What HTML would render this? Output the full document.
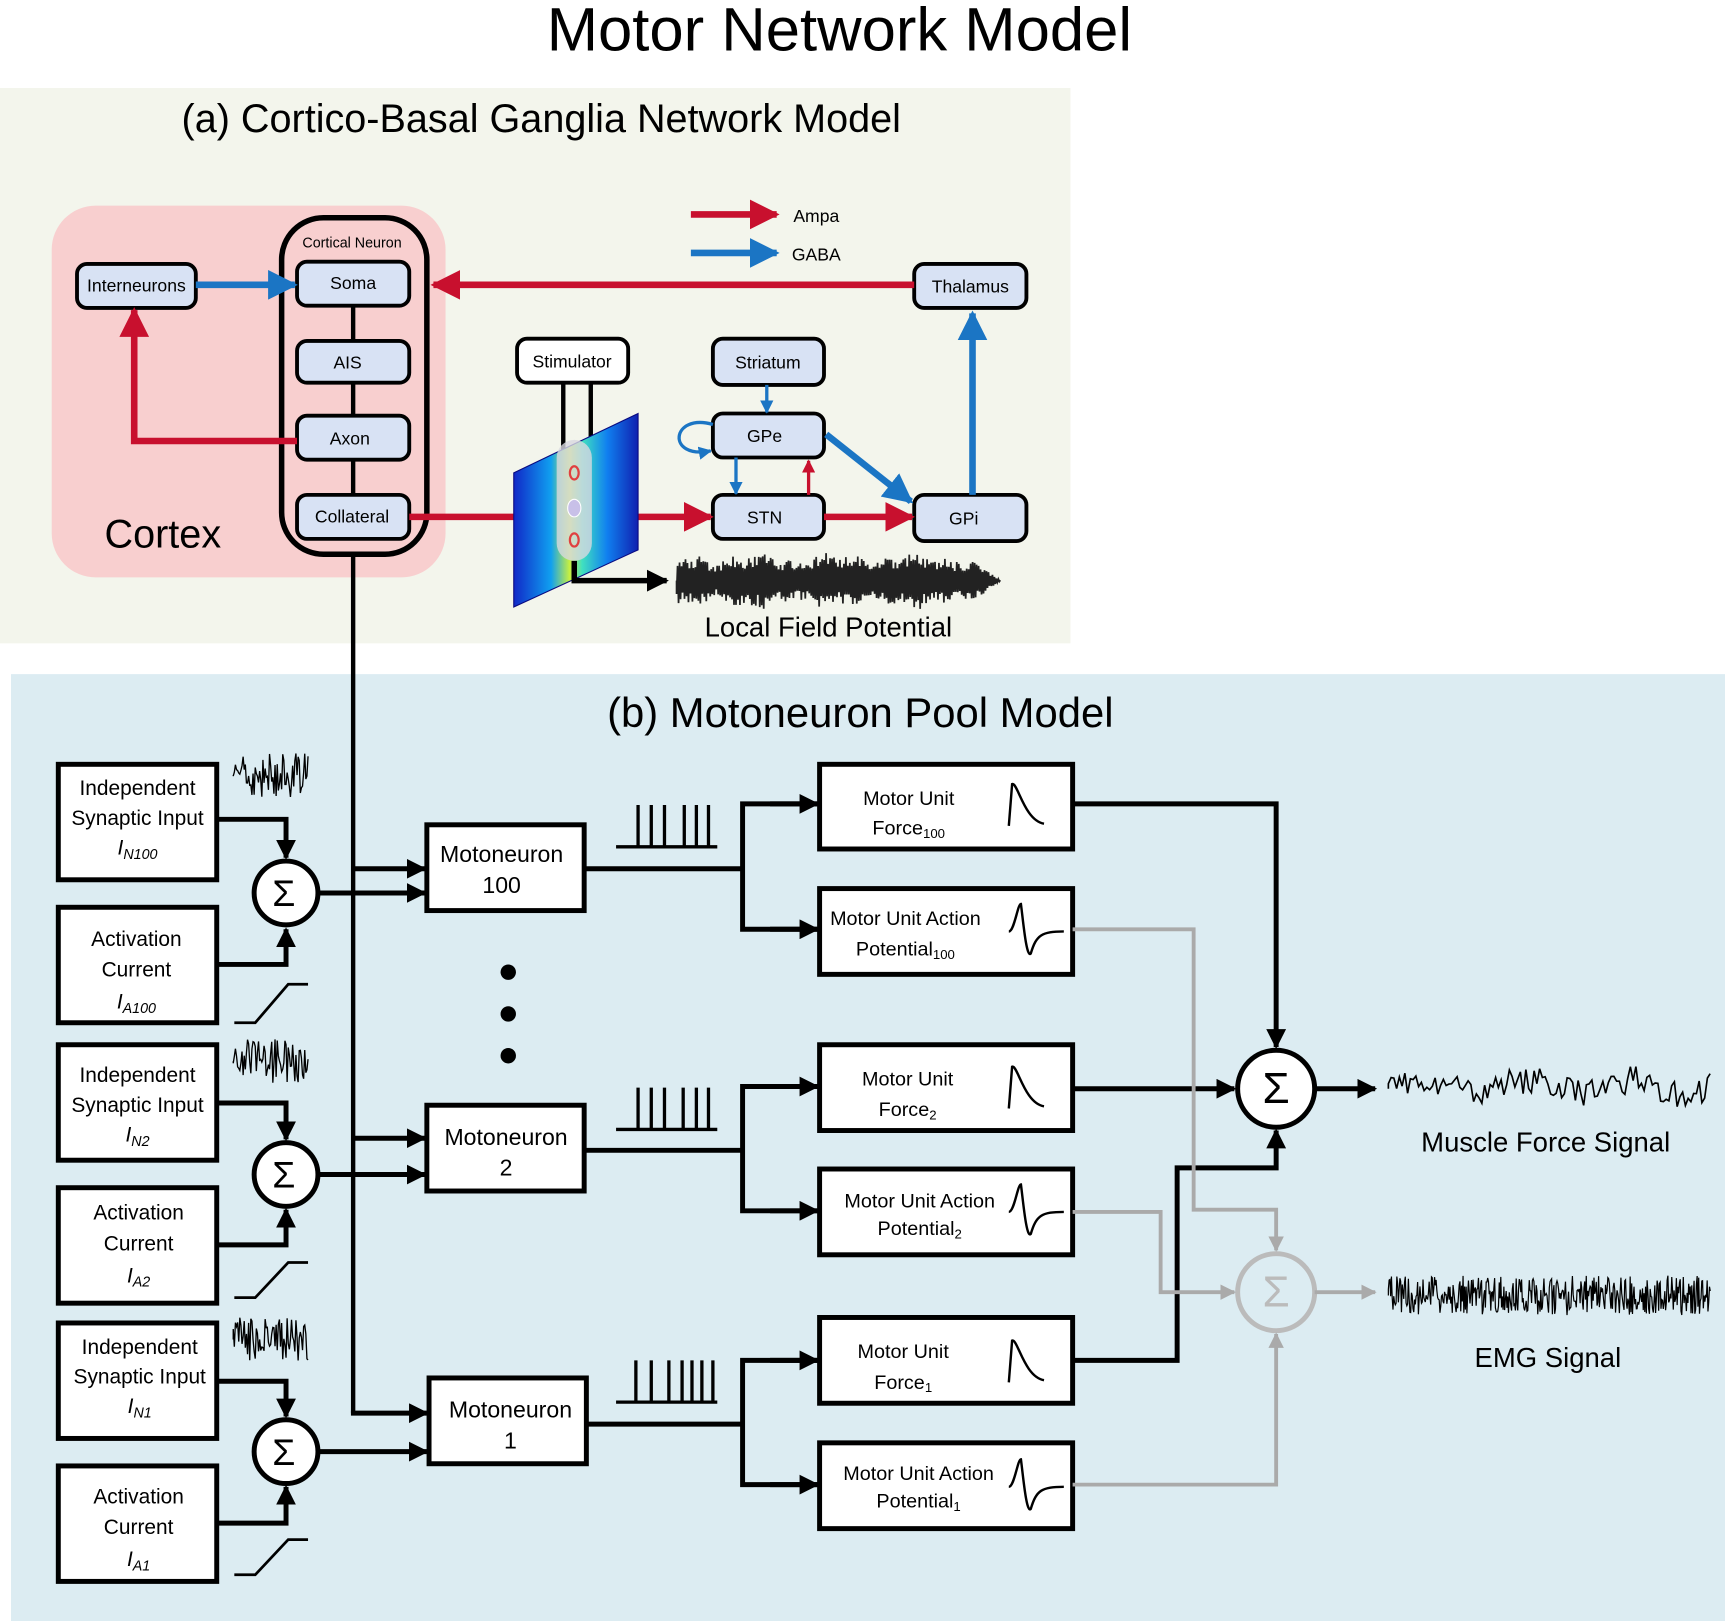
<!DOCTYPE html>
<html><head><meta charset="utf-8"><style>
html,body{margin:0;padding:0;background:#fff}
svg{display:block}
text{font-family:"Liberation Sans",sans-serif}
</style></head><body>
<svg id="s" width="1725" height="1621" viewBox="0 0 1568 1474" preserveAspectRatio="none" xmlns="http://www.w3.org/2000/svg">
<defs>
<marker id="ar" viewBox="0 0 10 10" refX="9" refY="5" markerWidth="4.5" markerHeight="4.5" orient="auto"><path d="M0,0L10,5L0,10z" fill="#c8102e"/></marker>
<marker id="ab" viewBox="0 0 10 10" refX="9" refY="5" markerWidth="4.5" markerHeight="4.5" orient="auto"><path d="M0,0L10,5L0,10z" fill="#1b75c4"/></marker>
<marker id="ars" viewBox="0 0 10 10" refX="9" refY="5" markerWidth="4" markerHeight="4" orient="auto"><path d="M0,0L10,5L0,10z" fill="#c8102e"/></marker>
<marker id="abs" viewBox="0 0 10 10" refX="9" refY="5" markerWidth="4" markerHeight="4" orient="auto"><path d="M0,0L10,5L0,10z" fill="#1b75c4"/></marker>
<marker id="ak" viewBox="0 0 10 10" refX="9" refY="5" markerWidth="4" markerHeight="4" orient="auto"><path d="M0,0L10,5L0,10z" fill="#000"/></marker>
<marker id="ag" viewBox="0 0 10 10" refX="9" refY="5" markerWidth="4" markerHeight="4" orient="auto"><path d="M0,0L10,5L0,10z" fill="#aaa"/></marker>
<linearGradient id="eg" x1="0" y1="0" x2="1" y2="0">
<stop offset="0" stop-color="#1028c8"/><stop offset="0.3" stop-color="#10a0f0"/><stop offset="0.45" stop-color="#c8f040"/><stop offset="0.55" stop-color="#40e0c0"/><stop offset="0.75" stop-color="#1080f0"/><stop offset="1" stop-color="#1020b0"/></linearGradient>
</defs>
<text x="763" y="46" font-size="56" text-anchor="middle">Motor Network Model</text>
<rect x="0" y="80" width="973" height="505" fill="#f3f5ec"/>
<rect x="10" y="613" width="1558" height="861" fill="#dcecf2"/>
<text x="492" y="120" font-size="36" text-anchor="middle">(a) Cortico-Basal Ganglia Network Model</text>
<rect x="47" y="187" width="358" height="338" rx="40" fill="#f8cfcf"/>
<text x="148" y="498" font-size="36" text-anchor="middle">Cortex</text>
<rect x="256" y="198" width="132" height="306" rx="38" fill="none" stroke="#000" stroke-width="5"/>
<text x="320" y="225" font-size="13" text-anchor="middle">Cortical Neuron</text>
<g stroke="#000" stroke-width="4"><line x1="321" y1="278" x2="321" y2="450"/></g>
<g stroke="#000" stroke-width="3.5" fill="#d8e2f4">
<rect x="70" y="240" width="108" height="40" rx="9"/>
<rect x="270" y="238" width="102" height="40" rx="9"/>
<rect x="270" y="310" width="102" height="38" rx="9"/>
<rect x="270" y="378" width="102" height="40" rx="9"/>
<rect x="270" y="450" width="102" height="40" rx="9"/>
<rect x="831" y="240" width="102" height="40" rx="9"/>
<rect x="648" y="308" width="101" height="42" rx="9"/>
<rect x="648" y="376" width="101" height="40" rx="9"/>
<rect x="648" y="450" width="101" height="40" rx="9"/>
<rect x="831" y="450" width="102" height="42" rx="9"/>
<rect x="470" y="308" width="101" height="40" rx="9" fill="#fff"/>
</g>
<g font-size="16" text-anchor="middle">
<text x="124" y="265">Interneurons</text><text x="321" y="263">Soma</text><text x="316" y="335">AIS</text>
<text x="318" y="404">Axon</text><text x="320" y="475">Collateral</text><text x="882" y="266">Thalamus</text>
<text x="698" y="335">Striatum</text><text x="695" y="402">GPe</text><text x="695" y="476">STN</text>
<text x="876" y="477">GPi</text><text x="520" y="334">Stimulator</text>
<text x="742" y="202">Ampa</text><text x="742" y="237">GABA</text></g>
<g fill="none" stroke-width="6">
<line x1="628" y1="195" x2="706" y2="195" stroke="#c8102e" marker-end="url(#ar)"/>
<line x1="628" y1="230" x2="706" y2="230" stroke="#1b75c4" marker-end="url(#ab)"/>
<line x1="178" y1="259" x2="268" y2="259" stroke="#1b75c4" marker-end="url(#ab)"/>
<line x1="831" y1="259" x2="394" y2="259" stroke="#c8102e" marker-end="url(#ar)"/>
<polyline points="270,401 122,401 122,282" stroke="#c8102e" marker-end="url(#ar)"/>
<line x1="372" y1="470" x2="470" y2="470" stroke="#c8102e"/>
<line x1="578" y1="470" x2="646" y2="470" stroke="#c8102e" marker-end="url(#ar)"/>
<line x1="749" y1="470" x2="829" y2="470" stroke="#c8102e" marker-end="url(#ar)"/>
<line x1="884" y1="450" x2="884" y2="285" stroke="#1b75c4" marker-end="url(#ab)"/>
<line x1="751" y1="395" x2="828" y2="456" stroke="#1b75c4" marker-end="url(#ab)"/>
</g>
<g fill="none" stroke-width="3">
<line x1="697" y1="350" x2="697" y2="375" stroke="#1b75c4" marker-end="url(#abs)"/>
<line x1="669" y1="416" x2="669" y2="449" stroke="#1b75c4" marker-end="url(#abs)"/>
<line x1="735" y1="450" x2="735" y2="419" stroke="#c8102e" marker-end="url(#ars)"/>
<path d="M648,386 C610,375 605,418 646,410" stroke="#1b75c4" marker-end="url(#abs)"/>
</g>
<g stroke="#000" stroke-width="4"><line x1="512" y1="348" x2="512" y2="420"/><line x1="537" y1="348" x2="537" y2="405"/></g>
<polygon points="467,430 580,376 580,500 467,552" fill="url(#eg)" stroke="#0a0a80" stroke-width="1"/>
<rect x="506" y="400" width="32" height="110" rx="16" fill="#d8d8e0" opacity="0.8"/>
<ellipse cx="522" cy="430" rx="4" ry="6" fill="none" stroke="#e04040" stroke-width="2"/>
<ellipse cx="522" cy="462" rx="6" ry="8" fill="#c8c0e8" stroke="#fff"/>
<ellipse cx="522" cy="491" rx="4" ry="6" fill="none" stroke="#e04040" stroke-width="2"/>
<polyline points="522,510 522,528 606,528" fill="none" stroke="#000" stroke-width="5" marker-end="url(#ak)"/>
<path id="lfp" fill="none" stroke="#222" stroke-width="1.6"/>
<text x="753" y="579" font-size="25" text-anchor="middle">Local Field Potential</text>
<line x1="321" y1="505" x2="321" y2="1285" stroke="#000" stroke-width="4"/>
<text x="782" y="661" font-size="38" text-anchor="middle">(b) Motoneuron Pool Model</text>
<g fill="#fff" stroke="#000" stroke-width="4.5">
<rect x="53" y="695" width="144" height="105"/><rect x="53" y="825" width="144" height="105"/>
<rect x="53" y="950" width="144" height="105"/><rect x="53" y="1080" width="144" height="105"/>
<rect x="53" y="1203" width="144" height="105"/><rect x="53" y="1333" width="144" height="105"/>
<rect x="388" y="750" width="143" height="78"/><rect x="388" y="1005" width="143" height="78"/><rect x="390" y="1253" width="143" height="78"/>
<rect x="745" y="695" width="230" height="77"/><rect x="745" y="808" width="230" height="78"/>
<rect x="745" y="950" width="230" height="78"/><rect x="745" y="1063" width="230" height="78"/>
<rect x="745" y="1198" width="230" height="78"/><rect x="745" y="1312" width="230" height="78"/>
<circle cx="260" cy="812" r="29"/><circle cx="260" cy="1068" r="29"/><circle cx="260" cy="1320" r="29"/>
<circle cx="1160" cy="990" r="35"/>
<circle cx="1160" cy="1175" r="35" stroke="#bbb" fill="none"/>
</g>
<g font-size="19" text-anchor="middle">
<text x="125" y="723">Independent</text><text x="125" y="750">Synaptic Input</text><text x="125" y="777" font-family="Liberation Serif" font-style="italic">I<tspan font-size="13" dy="4">N100</tspan></text>
<text x="124" y="860">Activation</text><text x="124" y="888">Current</text><text x="124" y="917" font-family="Liberation Serif" font-style="italic">I<tspan font-size="13" dy="4">A100</tspan></text>
<text x="125" y="984">Independent</text><text x="125" y="1011">Synaptic Input</text><text x="125" y="1038" font-family="Liberation Serif" font-style="italic">I<tspan font-size="13" dy="4">N2</tspan></text>
<text x="126" y="1109">Activation</text><text x="126" y="1137">Current</text><text x="126" y="1166" font-family="Liberation Serif" font-style="italic">I<tspan font-size="13" dy="4">A2</tspan></text>
<text x="127" y="1231">Independent</text><text x="127" y="1258">Synaptic Input</text><text x="127" y="1285" font-family="Liberation Serif" font-style="italic">I<tspan font-size="13" dy="4">N1</tspan></text>
<text x="126" y="1367">Activation</text><text x="126" y="1395">Current</text><text x="126" y="1424" font-family="Liberation Serif" font-style="italic">I<tspan font-size="13" dy="4">A1</tspan></text>
<g font-size="21"><text x="456" y="784">Motoneuron</text><text x="456" y="812">100</text>
<text x="460" y="1041">Motoneuron</text><text x="460" y="1069">2</text>
<text x="464" y="1289">Motoneuron</text><text x="464" y="1317">1</text></g>
<g font-size="18">
<text x="826" y="732">Motor Unit</text><text x="826" y="759">Force<tspan font-size="12" dy="3">100</tspan></text>
<text x="823" y="841">Motor Unit Action</text><text x="823" y="869">Potential<tspan font-size="12" dy="3">100</tspan></text>
<text x="825" y="987">Motor Unit</text><text x="825" y="1015">Force<tspan font-size="12" dy="3">2</tspan></text>
<text x="836" y="1098">Motor Unit Action</text><text x="836" y="1123">Potential<tspan font-size="12" dy="3">2</tspan></text>
<text x="821" y="1235">Motor Unit</text><text x="821" y="1263">Force<tspan font-size="12" dy="3">1</tspan></text>
<text x="835" y="1346">Motor Unit Action</text><text x="835" y="1371">Potential<tspan font-size="12" dy="3">1</tspan></text></g>
<g font-size="34"><text x="258" y="824">Σ</text><text x="258" y="1080">Σ</text><text x="258" y="1332">Σ</text><text x="1160" y="1003" font-size="40">Σ</text><text x="1160" y="1188" font-size="40" fill="#bbb">Σ</text></g>
<text x="1405" y="1047" font-size="25">Muscle Force Signal</text>
<text x="1407" y="1243" font-size="25">EMG Signal</text>
</g>
<g fill="#000"><circle cx="462" cy="884" r="7"/><circle cx="462" cy="922" r="7"/><circle cx="462" cy="960" r="7"/></g>
<g fill="none" stroke="#000" stroke-width="4.5">
<polyline points="197,745 260,745 260,780" marker-end="url(#ak)"/><polyline points="197,877 260,877 260,845" marker-end="url(#ak)"/>
<polyline points="197,1003 260,1003 260,1036" marker-end="url(#ak)"/><polyline points="197,1132 260,1132 260,1100" marker-end="url(#ak)"/>
<polyline points="197,1256 260,1256 260,1288" marker-end="url(#ak)"/><polyline points="197,1385 260,1385 260,1352" marker-end="url(#ak)"/>
<line x1="321" y1="790" x2="386" y2="790" marker-end="url(#ak)"/><line x1="289" y1="812" x2="386" y2="812" marker-end="url(#ak)"/>
<line x1="321" y1="1035" x2="386" y2="1035" marker-end="url(#ak)"/><line x1="289" y1="1068" x2="386" y2="1068" marker-end="url(#ak)"/>
<line x1="319" y1="1285" x2="388" y2="1285" marker-end="url(#ak)"/><line x1="289" y1="1320" x2="388" y2="1320" marker-end="url(#ak)"/>
<line x1="531" y1="790" x2="675" y2="790"/><polyline points="743,731 675,731 675,845 743,845"/>
<line x1="531" y1="1046" x2="675" y2="1046"/><polyline points="743,988 675,988 675,1101 743,1101"/>
<line x1="533" y1="1295" x2="675" y2="1295"/><polyline points="743,1237 675,1237 675,1350 743,1350"/>
<line x1="700" y1="731" x2="743" y2="731" marker-end="url(#ak)"/><line x1="700" y1="845" x2="743" y2="845" marker-end="url(#ak)"/>
<line x1="700" y1="988" x2="743" y2="988" marker-end="url(#ak)"/><line x1="700" y1="1101" x2="743" y2="1101" marker-end="url(#ak)"/>
<line x1="700" y1="1237" x2="743" y2="1237" marker-end="url(#ak)"/><line x1="700" y1="1350" x2="743" y2="1350" marker-end="url(#ak)"/>
<polyline points="975,731 1160,731 1160,952" marker-end="url(#ak)"/>
<line x1="975" y1="990" x2="1122" y2="990" marker-end="url(#ak)"/>
<polyline points="975,1237 1070,1237 1070,1062 1160,1062 1160,1028" marker-end="url(#ak)"/>
<line x1="1195" y1="990" x2="1250" y2="990" marker-end="url(#ak)"/>
</g>
<g fill="none" stroke="#aaa" stroke-width="3.5">
<polyline points="975,845 1085,845 1085,1100 1160,1100 1160,1137" marker-end="url(#ag)"/>
<polyline points="975,1102 1055,1102 1055,1175 1122,1175" marker-end="url(#ag)"/>
<polyline points="975,1350 1160,1350 1160,1213" marker-end="url(#ag)"/>
<line x1="1195" y1="1175" x2="1250" y2="1175" marker-end="url(#ag)"/>
</g>
<g id="sig" fill="none" stroke="#000" stroke-width="1.6"></g>
</svg>
<script>
var s=1;function r(){s=(s*16807)%2147483647;return s/2147483647;}
var g=document.getElementById('sig'),NS='http://www.w3.org/2000/svg';
function P(d,w,c){var p=document.createElementNS(NS,'path');p.setAttribute('d',d);p.setAttribute('stroke-width',w||1.6);if(c)p.setAttribute('stroke',c);g.appendChild(p);}
function noise(x0,x1,y,a,step){var d='M'+x0+','+y;for(var x=x0;x<=x1;x+=step){d+='L'+x.toFixed(1)+','+(y+(r()-0.5)*2*a).toFixed(1);}return d;}
var d='M615,528';for(var x=615;x<910;x+=0.9){var env=12+8*Math.abs(Math.sin(x/23))+6*Math.abs(Math.sin(x/9));if(x>880)env*=(910-x)/30;d+='L'+x.toFixed(1)+','+(528+((Math.round(x/0.9))%2?1:-1)*env*(0.5+0.5*r())).toFixed(1);}
document.getElementById('lfp').setAttribute('d',d);
[705,965,1218].forEach(function(y){P(noise(212,280,y,20,1.0),1.2);});
[[930,895],[1180,1148],[1432,1400]].forEach(function(v){P('M213,'+v[0]+'L232,'+v[0]+'L262,'+v[1]+'L280,'+v[1],2.5);});
function spikes(y,xs){var d='M560,'+y+'L652,'+y;xs.forEach(function(x){d+='M'+x+','+y+'L'+x+','+(y-38);});P(d,3);}
spikes(770,[580,592,604,622,633,644]);spikes(1027,[580,592,604,621,633,644]);spikes(1275,[578,592,608,620,629,638,648]);
[[731,917],[988,917],[1237,917]].forEach(function(v){var y=v[0]+20;P('M'+v[1]+','+y+'L'+(v[1]+3)+','+(y-38)+'C'+(v[1]+8)+','+(y-40)+' '+(v[1]+14)+','+(y-5)+' '+(v[1]+32)+','+(y-2),2.2);});
[[847,917],[1102,917],[1352,917]].forEach(function(v){var y=v[0];var x=v[1];P('M'+x+','+y+'C'+(x+5)+','+y+' '+(x+8)+','+(y-25)+' '+(x+11)+','+(y-25)+'C'+(x+13)+','+(y-10)+' '+(x+16)+','+(y+25)+' '+(x+20)+','+(y+20)+'C'+(x+25)+','+(y+3)+' '+(x+30)+','+y+' '+(x+50)+','+y,2.2);});
var d2='M1262,990';for(var x=1262;x<1555;x+=2.5){d2+='L'+x.toFixed(1)+','+(988+(r()-0.5)*26+6*Math.sin(x/15)).toFixed(1);}P(d2,1.5);
P(noise(1262,1555,1178,18,0.7),1.1);
</script>
</body></html>
